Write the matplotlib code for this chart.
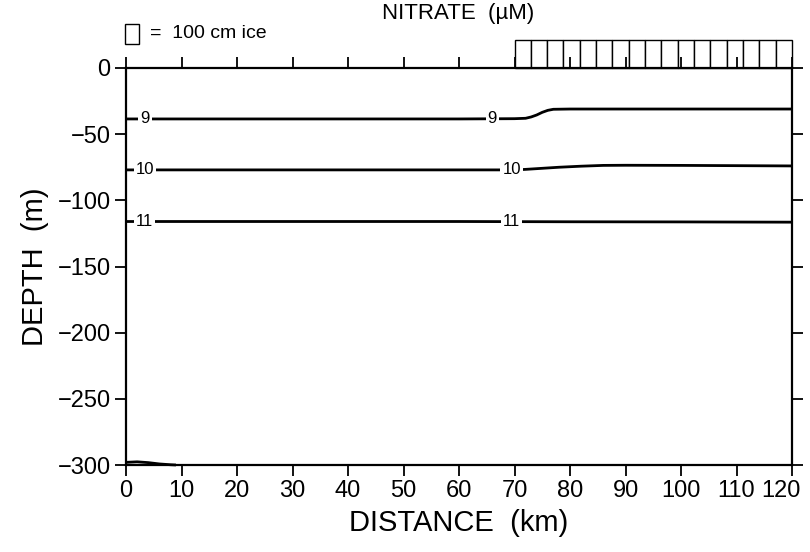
import matplotlib
matplotlib.use("Agg")
import matplotlib.pyplot as plt
import matplotlib.transforms as mtransforms
from matplotlib.patches import Rectangle

plt.rcParams["font.family"] = ["Liberation Sans", "DejaVu Sans"]

# ============================================================
# 数据：硝酸盐等值线 (距离 km, 深度 m)
# ============================================================
c9_x = [0, 20, 40, 60, 70, 72, 73, 74, 75, 76, 77, 80, 90, 100, 110, 120]
c9_y = [-38.5, -38.5, -38.5, -38.5, -38.3, -38.0, -37.0, -35.5, -33.5, -32.0, -31.2, -31.0, -31.0, -31.0, -31.0, -31.0]

c10_x = [0, 20, 40, 60, 70, 72, 75, 78, 82, 86, 90, 100, 110, 120]
c10_y = [-77.0, -77.0, -77.0, -77.0, -77.0, -76.6, -75.8, -75.0, -74.2, -73.6, -73.5, -73.6, -73.8, -74.0]

c11_x = [0, 20, 40, 60, 80, 100, 120]
c11_y = [-116.0, -116.0, -116.0, -116.0, -116.2, -116.3, -116.5]

bottom_x = [0, 2, 4, 6, 8, 9]
bottom_y = [-298.0, -297.6, -298.2, -299.2, -299.8, -300.0]

levels = ["9", "10", "11"]
label_pos = {
    "9": [(3.4, -38.5), (66.0, -38.5)],
    "10": [(3.4, -77.0), (69.5, -76.8)],
    "11": [(3.4, -116.0), (69.5, -116.0)],
}

# 冰厚 (cm)，70–120 km 共 17 个站
ice_start, ice_end = 70, 120
ice_thickness = [100, 100, 100, 100, 100, 100, 100, 100, 100,
                 100, 100, 100, 100, 100, 100, 100, 100]
ice_scale = 21.0  # 100 cm 冰对应的图上高度 (m)

x_ticks = [0, 10, 20, 30, 40, 50, 60, 70, 80, 90, 100, 110, 120]
y_ticks = [0, -50, -100, -150, -200, -250, -300]

# ============================================================
# 绘图
# ============================================================
fig = plt.figure(figsize=(8.1, 5.52), dpi=100)
ax = fig.add_axes([126 / 810, 1 - 465 / 552, 666 / 810, 397 / 552])

for xs, ys in [(c9_x, c9_y), (c10_x, c10_y), (c11_x, c11_y), (bottom_x, bottom_y)]:
    ax.plot(xs, ys, color="black", lw=2.0, solid_capstyle="butt", clip_on=False)

for lev in levels:
    for px, py in label_pos[lev]:
        ax.text(px, py, lev, fontsize=12, ha="center", va="center",
                bbox=dict(facecolor="white", edgecolor="none", pad=1.5))

# 海冰方块
n_ice = len(ice_thickness)
w = (ice_end - ice_start) / n_ice
for i, th in enumerate(ice_thickness):
    ax.add_patch(Rectangle((ice_start + i * w, 0), w, th / 100 * ice_scale,
                           facecolor="white", edgecolor="black", lw=1.0, clip_on=False))

ax.set_xlim(0, 120)
ax.set_ylim(-300, 0)
ax.set_xticks(x_ticks)
ax.set_yticks(y_ticks)
ax.set_yticklabels([str(v).replace("-", "\u2212") for v in y_ticks])
ax.tick_params(axis="both", direction="out", length=8, width=1.3, labelsize=17,
               top=True, right=True, labeltop=False, labelright=False, pad=3)
for s in ax.spines.values():
    s.set_linewidth(1.6)

# 最右侧 "120" 稍向左移，避免超出画布
last = ax.get_xticklabels()[-1]
last.set_transform(last.get_transform() + mtransforms.ScaledTranslation(-8 / 72, 0, fig.dpi_scale_trans))

ax.set_xlabel("DISTANCE  (km)", fontsize=21, labelpad=5)
ax.set_ylabel("DEPTH  (m)", fontsize=21, labelpad=6)
fig.text(0.566, 0.995, "NITRATE  (\u00b5M)", fontsize=16, ha="center", va="top")

# 图例：方块 = 100 cm 冰
fig.add_artist(Rectangle((125 / 810, 1 - 44 / 552), 14 / 810, 20 / 552,
                         transform=fig.transFigure, facecolor="white",
                         edgecolor="black", lw=1.0))
fig.text(150 / 810, 1 - 34 / 552, "=  100 cm ice", fontsize=14, ha="left", va="center")

fig.savefig("out.png", dpi=100, facecolor="white")
